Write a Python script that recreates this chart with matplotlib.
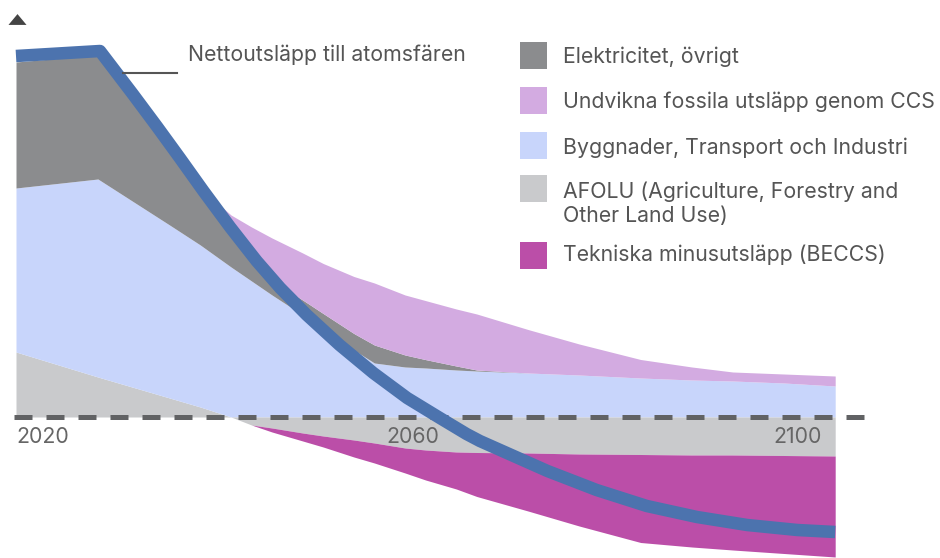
import numpy as np
import matplotlib
matplotlib.use("Agg")
import matplotlib.pyplot as plt
from matplotlib.patches import Rectangle

plt.rcParams['font.family'] = ['Inter', 'DejaVu Sans']

# stacked series (arbitrary units)
years = [2020, 2028, 2035, 2038, 2041, 2043, 2045, 2048, 2050, 2053, 2055,
         2058, 2060, 2063, 2065, 2070, 2075, 2081, 2086, 2090, 2095, 2100]
afolu = [65, 40, 19, 10, 0, -8, -11, -16, -19, -23, -26,
         -31, -33, -35, -35.5, -36, -37, -37.5, -38, -38, -38.5, -39]
byggnader = [164, 198, 173, 162, 150, 136, 122, 102, 88, 67, 54,
             50, 49, 47, 46, 44, 42, 39, 37, 36, 34, 31]
elektricitet = [126, 124, 79, 56, 38, 27, 14, 15, 15.5, 16.5, 18,
                12, 8.4, 4, 1, 0, 0, 0, 0, 0, 0, 0]
ccs = [0, 0, 0, 1, 14, 27, 43, 47, 50, 57, 62,
       60, 59, 57, 56, 43.5, 31, 18.5, 13, 9, 9, 10]
beccs = [0, 0, 0, 0, 0, 0, 4, 8, 11, 17, 20,
         25, 30, 37, 44, 58, 72, 88, 92, 95, 98, 101]

# net emissions line
net_years = [2020, 2028.2, 2031.4, 2033.8, 2036.0, 2038.3, 2040.9, 2043.5,
             2045.8, 2048.4, 2051.6, 2054.9, 2058.2, 2061.4, 2064.0, 2065.3,
             2071.9, 2076.7, 2081.6, 2086.5, 2091.4, 2096.3, 2100]
net = [361, 366, 323, 290, 259, 226, 190, 156,
       129, 102, 72, 44, 19, -1, -17, -24,
       -54, -73, -89, -100, -108, -113, -115]

tick_years = [2020, 2060, 2100]

legend_labels = ["Elektricitet, övrigt",
                 "Undvikna fossila utsläpp genom CCS",
                 "Byggnader, Transport och Industri",
                 "AFOLU (Agriculture, Forestry and\nOther Land Use)",
                 "Tekniska minusutsläpp (BECCS)"]
c_el = "#8b8c8e"
c_ccs = "#d3abe1"
c_bygg = "#c8d5fb"
c_afolu = "#c9cacc"
c_beccs = "#bb4ea8"
c_net = "#4c73ae"
legend_colors = [c_el, c_ccs, c_bygg, c_afolu, c_beccs]

W, H = 940, 558
fs = 15.3
fig = plt.figure(figsize=(W / 100, H / 100), dpi=100)
ax = fig.add_axes([14 / W, 0, (866 - 14) / W, 1])
ax.set_xlim(2020 - 2 / 10.24, 2020 + 850 / 10.24)
ax.set_ylim(-141, 417)
ax.axis('off')

x = np.array(years)
af = np.array(afolu, dtype=float)
pos = np.clip(af, 0, None)
neg = np.clip(af, None, 0)
b1 = pos + np.array(byggnader)
b2 = b1 + np.array(elektricitet)
b3 = b2 + np.array(ccs)
n2 = neg - np.array(beccs)

ax.fill_between(x, 0, pos, color=c_afolu, lw=0, zorder=1)
ax.fill_between(x, pos, b1, color=c_bygg, lw=0, zorder=1)
ax.fill_between(x, b1, b2, color=c_el, lw=0, zorder=1)
ax.fill_between(x, b2, b3, color=c_ccs, lw=0, zorder=1)
ax.fill_between(x, neg, 0, color=c_afolu, lw=0, zorder=1)
ax.fill_between(x, n2, neg, color=c_beccs, lw=0, zorder=1)

ax.axhline(0, color="#616264", lw=3.6, dashes=(3.6, 2.8), zorder=2)

ax.plot(net_years, net, color=c_net, lw=9, solid_capstyle='butt',
        solid_joinstyle='round', zorder=3)

# little arrow tip of the y axis (wider than tall)
tri = [(-1, -0.6), (1, -0.6), (0, 0.6), (-1, -0.6)]
ax.plot([2020.1], [398], marker=tri, color="#444444", markersize=13,
        markeredgewidth=0, clip_on=False)

# annotation for the net line
ax.plot([2030.45, 2035.7], [344, 344], color="#555555", lw=1.5, zorder=3)
ax.text(2036.8, 362, "Nettoutsläpp till atomsfären", color="#555555",
        fontsize=fs, va='center', ha='left')

# year labels
ax.text(tick_years[0], -20, str(tick_years[0]), color="#666666", fontsize=fs,
        ha='left', va='center')
ax.text(tick_years[1] - 3.8, -20, str(tick_years[1]), color="#666666", fontsize=fs,
        ha='left', va='center')
ax.text(tick_years[2] - 1.3, -20, str(tick_years[2]), color="#666666", fontsize=fs,
        ha='right', va='center')

# legend drawn by hand
box_y = [55, 100, 145, 188, 255]
text_y = [57, 102, 148, 203.5, 255]
for lab, col, by, ty in zip(legend_labels, legend_colors, box_y, text_y):
    fig.add_artist(Rectangle((520 / W, 1 - (by + 13.5) / H), 27 / W, 27 / H,
                             color=col, lw=0, transform=fig.transFigure))
    fig.text(563 / W, 1 - ty / H, lab, color="#555555", fontsize=fs,
             va='center', ha='left', linespacing=1.25)

fig.savefig("out.png", dpi=100)
